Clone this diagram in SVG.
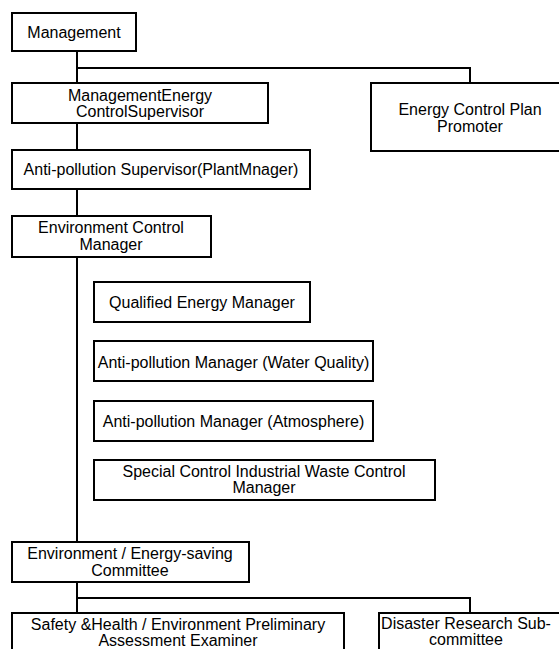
<svg xmlns="http://www.w3.org/2000/svg" width="559" height="649" viewBox="0 0 559 649">
<style>
.box{fill:#fff;stroke:#000;stroke-width:2}
.ln{fill:none;stroke:#000;stroke-width:2}
text{font-family:"Liberation Sans",Arial,sans-serif;font-size:16px;fill:#000;text-anchor:middle}
</style>
<rect width="559" height="649" fill="#fff"/>
<g id="connectors">
<path class="ln" d="M77 51V542"/>
<path class="ln" d="M77 68H470V83"/>
<path class="ln" d="M77 582V613"/>
<path class="ln" d="M77 598H470V613"/>
</g>
<g id="management"><rect class="box" x="12" y="13" width="124" height="38"/><text x="74" y="38">Management</text></g>
<g id="mgmt-energy-supervisor"><rect class="box" x="12" y="83" width="256" height="40"/><text x="140" y="101">ManagementEnergy</text><text x="140" y="117">ControlSupervisor</text></g>
<g id="energy-plan-promoter"><rect class="box" x="371" y="83" width="200" height="68"/><text x="470" y="115">Energy Control Plan</text><text x="470" y="132">Promoter</text></g>
<g id="anti-pollution-supervisor"><rect class="box" x="12" y="150" width="298" height="39"/><text x="161" y="175">Anti-pollution Supervisor(PlantMnager)</text></g>
<g id="env-control-manager"><rect class="box" x="12" y="216" width="199" height="41"/><text x="111" y="233">Environment Control</text><text x="111" y="250">Manager</text></g>
<g id="qualified-energy-manager"><rect class="box" x="94" y="282" width="216" height="40"/><text x="202" y="308">Qualified Energy Manager</text></g>
<g id="water-quality-manager"><rect class="box" x="94" y="341" width="279" height="40"/><text x="233.5" y="368">Anti-pollution Manager (Water Quality)</text></g>
<g id="atmosphere-manager"><rect class="box" x="94" y="401" width="279" height="40"/><text x="233.5" y="427">Anti-pollution Manager (Atmosphere)</text></g>
<g id="waste-control-manager"><rect class="box" x="94" y="460" width="341" height="40"/><text x="264" y="477">Special Control Industrial Waste Control</text><text x="264" y="493">Manager</text></g>
<g id="env-energy-committee"><rect class="box" x="12" y="542" width="237" height="40"/><text x="130" y="559">Environment / Energy-saving</text><text x="130" y="576">Committee</text></g>
<g id="safety-health-examiner"><rect class="box" x="12" y="613" width="332" height="50"/><text x="178" y="630">Safety &amp;Health / Environment Preliminary</text><text x="178" y="646">Assessment Examiner</text></g>
<g id="disaster-research"><rect class="box" x="379" y="613" width="200" height="50"/><text x="466" y="629">Disaster Research Sub-</text><text x="466" y="645">committee</text></g>
</svg>
